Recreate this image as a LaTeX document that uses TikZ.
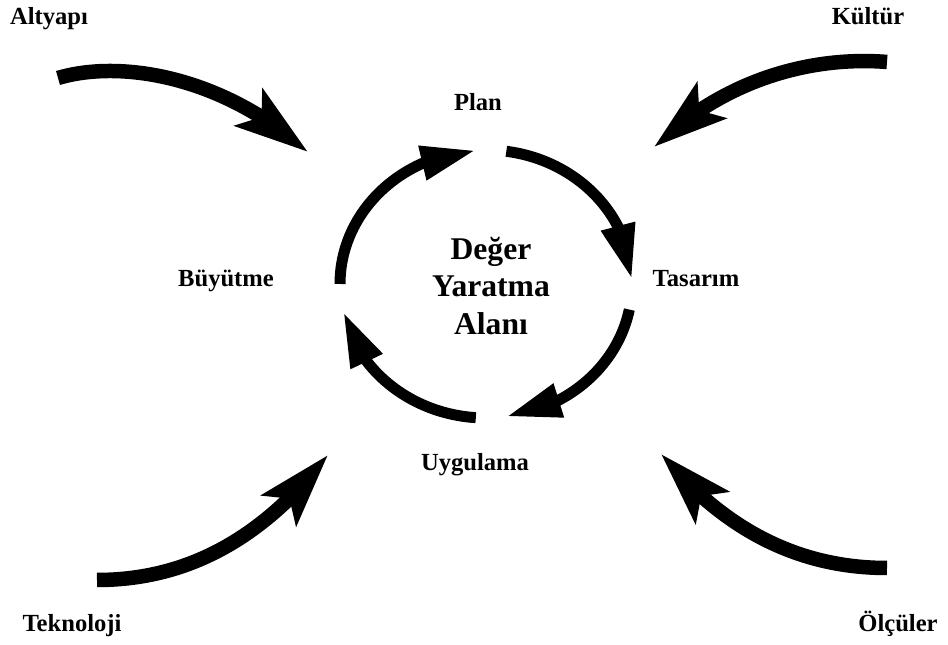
\documentclass[tikz,border=0pt]{standalone}
\usepackage{fontspec}
\setmainfont{Liberation Serif}
\usetikzlibrary{arrows.meta,bending}

\begin{document}
\begin{tikzpicture}[x=0.02cm,y=0.02cm,
  every node/.style={font=\bfseries\fontsize{14}{17}\selectfont,inner sep=0pt,anchor=base},
  outer/.style={line width=0.29cm,-{Stealth[length=1.46cm,width=0.9cm,inset=0.3cm]}},
  inner/.style={line width=0.22cm,-{Triangle[length=1.1cm,width=0.65cm]}}]
\useasboundingbox (0,0) rectangle (948,645);

% outside labels
\node (altyapi) at (49,620) {Altyapı};
\node (kultur) at (868,620) {Kültür};
\node (teknoloji) at (72,13) {Teknoloji};
\node (olculer) at (898,13) {Ölçüler};

% cycle labels
\node (plan) at (478,534) {Plan};
\node (tasarim) at (696,358) {Tasarım};
\node (uygulama) at (475,174) {Uygulama};
\node (buyutme) at (226,358) {Büyütme};
\node[anchor=center,align=center,font=\bfseries\fontsize{18}{21.5}\selectfont] (alan) at (491,359) {Değer\\Yaratma\\Alanı};

% cycle arrows
\coordinate (c) at (486,361);
\foreach \a/\b in {180/94,82/2,-11/-82,-94/-168}{
\draw[inner] (c) ++(\a:146 and 134) arc[start angle=\a,end angle=\b,x radius=146,y radius=134];}

% incoming arrows
\coordinate (altS) at (58,567); \coordinate (altT) at (308,493);
\coordinate (kulS) at (887,583); \coordinate (kulT) at (654,498);
\coordinate (tekS) at (97,65); \coordinate (tekT) at (328,190);
\coordinate (olcS) at (887,77); \coordinate (olcT) at (661,191);

\draw[outer] (altS) .. controls (118,585) and (220,571) .. (altT);
\draw[outer] (kulS) .. controls (827,588) and (734,575) .. (kulT);
\draw[outer] (tekS) .. controls (180,65) and (258,100) .. (tekT);
\draw[outer] (olcS) .. controls (800,77) and (725,114) .. (olcT);

\end{tikzpicture}
\end{document}
